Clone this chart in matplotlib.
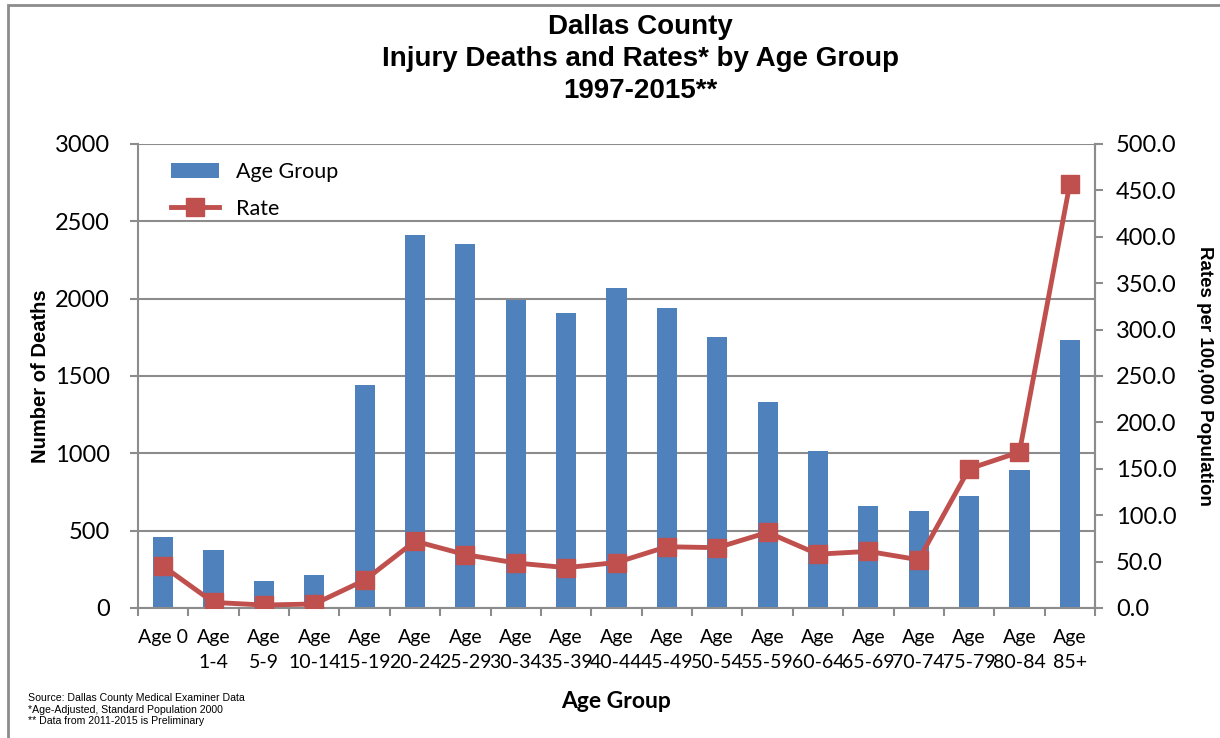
import matplotlib.pyplot as plt
from matplotlib.patches import Rectangle
import numpy as np

groups = ['Age 0', 'Age\n1-4', 'Age\n5-9', 'Age\n10-14', 'Age\n15-19', 'Age\n20-24',
          'Age\n25-29', 'Age\n30-34', 'Age\n35-39', 'Age\n40-44', 'Age\n45-49',
          'Age\n50-54', 'Age\n55-59', 'Age\n60-64', 'Age\n65-69', 'Age\n70-74',
          'Age\n75-79', 'Age\n80-84', 'Age\n85+']
deaths = [460, 378, 172, 213, 1440, 2410, 2355, 1990, 1910, 2070, 1940, 1750,
          1335, 1012, 662, 628, 725, 895, 1730]
rates = [45.0, 6.0, 3.2, 4.3, 30.0, 72.0, 57.5, 48.5, 43.5, 49.0, 66.0, 65.0,
         81.5, 58.0, 61.0, 52.0, 150.0, 168.0, 457.0]

bar_color = '#4F81BD'
line_color = '#C0504D'
grid_color = '#8C8C8C'
tick_font = 'Lato'

fig = plt.figure(figsize=(12.2, 7.38), dpi=100)
fig.patches.append(Rectangle((8 / 1220, -0.05), 1.2, 1 - 5 / 738 + 0.05,
                             transform=fig.transFigure, fill=False,
                             edgecolor='#8C8C8C', linewidth=2))

ax = fig.add_axes([138 / 1220, 1 - 608 / 738, (1095 - 138) / 1220, (608 - 144) / 738])
x = np.arange(len(groups))
ax.bar(x, deaths, width=0.4, color=bar_color, label='Age Group', zorder=2)
ax.set_xlim(-0.5, len(groups) - 0.5)
ax.set_ylim(0, 3000)
ax.set_yticks(np.arange(0, 3001, 500))
ax.yaxis.grid(True, color=grid_color, linewidth=1.5, zorder=0)
ax.set_axisbelow(True)
ax.spines['top'].set_visible(False)
for s in ['left', 'bottom', 'right']:
    ax.spines[s].set_color(grid_color)
    ax.spines[s].set_linewidth(1.5)

ax.set_xticks(x)
ax.set_xticklabels(groups, fontsize=14, family=tick_font, va='top', linespacing=1.6)
ax.set_xticks(np.arange(-0.5, len(groups), 1), minor=True)
ax.tick_params(axis='x', which='major', length=0, pad=15)
ax.tick_params(axis='x', which='minor', length=6, color=grid_color, width=1.5)
ax.tick_params(axis='y', length=6, color=grid_color, width=1.5, labelsize=17, pad=14)
for lab in ax.get_yticklabels():
    lab.set_family(tick_font)
ax.set_ylabel('Number of Deaths', fontsize=14.5, fontweight='bold',
              family='Liberation Sans', labelpad=4)
ax.set_xlabel('Age Group', fontsize=16.5, fontweight='bold', family=tick_font, labelpad=14)

ax2 = ax.twinx()
ax2.plot(x, rates, color=line_color, linewidth=3.5, marker='s', markersize=13,
         label='Rate', zorder=3)
ax2.set_ylim(0, 500)
ax2.set_yticks(np.arange(0, 501, 50))
ax2.set_yticklabels([f'{v:.1f}' for v in np.arange(0, 501, 50)])
ax2.tick_params(axis='y', length=6, color=grid_color, width=1.5, labelsize=17, pad=9)
for lab in ax2.get_yticklabels():
    lab.set_family(tick_font)
for s in ['top', 'left', 'bottom']:
    ax2.spines[s].set_visible(False)
ax2.spines['right'].set_color(grid_color)
ax2.spines['right'].set_linewidth(1.5)
ax2.set_ylabel('Rates per 100,000 Population', fontsize=13.5, fontweight='bold',
               family='Liberation Sans', rotation=270, labelpad=26)

h1, l1 = ax.get_legend_handles_labels()
h2, l2 = ax2.get_legend_handles_labels()
leg = ax2.legend(h1 + h2, l1 + l2, loc='upper left', bbox_to_anchor=(0.014, 1.002),
                 frameon=False, prop={'family': tick_font, 'size': 15.5},
                 handlelength=2.25, handletextpad=0.8, labelspacing=0.75)

fig.text(640 / 1220, 1 - 14 / 738, 'Dallas County\nInjury Deaths and Rates* by Age Group\n1997-2015**',
         ha='center', va='top', fontsize=20, fontweight='bold',
         family='Liberation Sans', linespacing=1.3)

fig.text(28 / 1220, 1 - 693 / 738,
         'Source: Dallas County Medical Examiner Data\n*Age-Adjusted, Standard Population 2000\n** Data from 2011-2015 is Preliminary',
         ha='left', va='top', fontsize=7.6, family='Liberation Sans', linespacing=1.2)

fig.savefig('out.png', dpi=100, facecolor='white')
